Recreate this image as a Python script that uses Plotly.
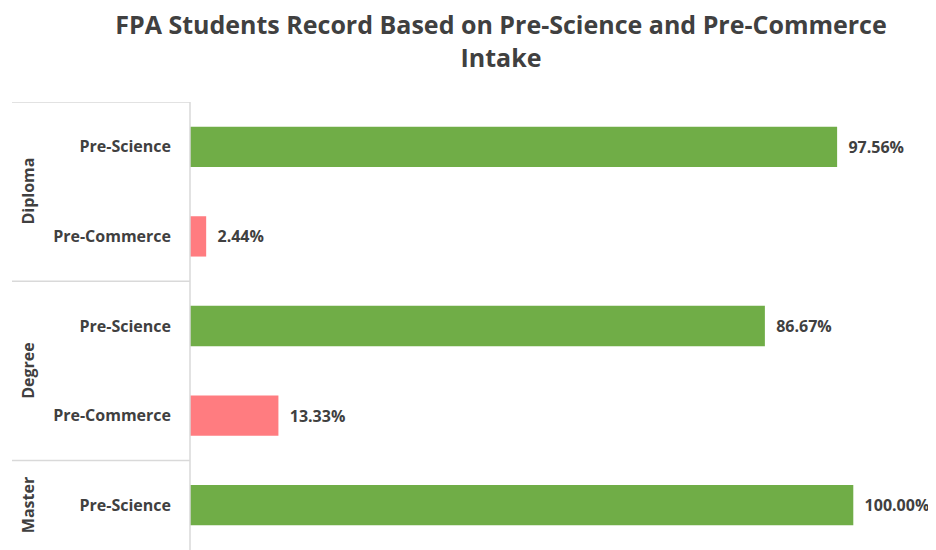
import plotly.graph_objects as go

# chart data
groups = ["Diploma", "Diploma", "Degree", "Degree", "Master"]
programs = ["Pre-Science", "Pre-Commerce", "Pre-Science", "Pre-Commerce", "Pre-Science"]
percent = [97.56, 2.44, 86.67, 13.33, 100.00]

program_colors = {"Pre-Science": "#70AD47", "Pre-Commerce": "#FF7C80"}

# the page body adds an 8px offset, so the figure is a bit smaller than the window
OFF = 8
W, H = 936 - OFF, 550 - OFF
ML, MT = 190 - OFF, 102 - OFF
plot_w = W - ML
px_per_unit = 6.633  # 100% -> ~663px

FONT = "Open Sans"
TXT = "#404040"

positions = list(range(len(programs)))
bar_colors = [program_colors[p] for p in programs]
labels = ["\u00a0\u00a0" + f"{v:.2f}%" for v in percent]

fig = go.Figure(go.Bar(
    x=percent,
    y=positions,
    orientation="h",
    marker=dict(color=bar_colors, line=dict(width=0)),
    width=0.45,
    text=labels,
    textposition="outside",
    cliponaxis=False,
    textfont=dict(family=FONT, size=16, color=TXT, weight="bold"),
    hoverinfo="skip",
))

# group separators and group labels on the left
grid_col = "#D9D9D9"
x_left = (12 - OFF - ML) / plot_w
x_group = (28 - OFF - ML) / plot_w
shapes = []
annotations = []
start = 0
for i in range(1, len(groups) + 1):
    if i == len(groups) or groups[i] != groups[start]:
        shapes.append(dict(type="line", xref="paper", yref="y",
                           x0=x_left, x1=0, y0=start - 0.5, y1=start - 0.5,
                           line=dict(color=grid_col, width=1.5)))
        annotations.append(dict(text=groups[start], xref="paper", yref="y",
                                x=x_group, y=(start + i - 1) / 2,
                                textangle=-90, showarrow=False,
                                xanchor="center", yanchor="middle",
                                font=dict(family=FONT, size=16, color=TXT, weight="bold")))
        start = i
shapes.append(dict(type="line", xref="paper", yref="paper",
                   x0=0, x1=0, y0=0, y1=1,
                   line=dict(color=grid_col, width=1.5)))

fig.update_layout(
    width=W, height=H,
    margin=dict(l=ML, r=0, t=MT, b=0),
    paper_bgcolor="white", plot_bgcolor="white",
    showlegend=False,
    title=dict(
        text="FPA Students Record Based on Pre-Science and Pre-Commerce<br>Intake",
        x=(501 - OFF) / W, xref="container", xanchor="center",
        y=1 - 26 / H, yref="container", yanchor="middle",
        font=dict(family=FONT, size=25, color=TXT, weight="bold"),
    ),
    xaxis=dict(range=[0, plot_w / px_per_unit], visible=False, fixedrange=True),
    yaxis=dict(
        range=[len(programs) - 0.5, -0.5],
        tickmode="array", tickvals=positions, ticktext=programs,
        ticks="", showgrid=False, zeroline=False, showline=False,
        ticklabelstandoff=18,
        tickfont=dict(family=FONT, size=16, color=TXT, weight="bold"),
        fixedrange=True,
    ),
    shapes=shapes,
    annotations=annotations,
)

fig.write_html("out.html")
